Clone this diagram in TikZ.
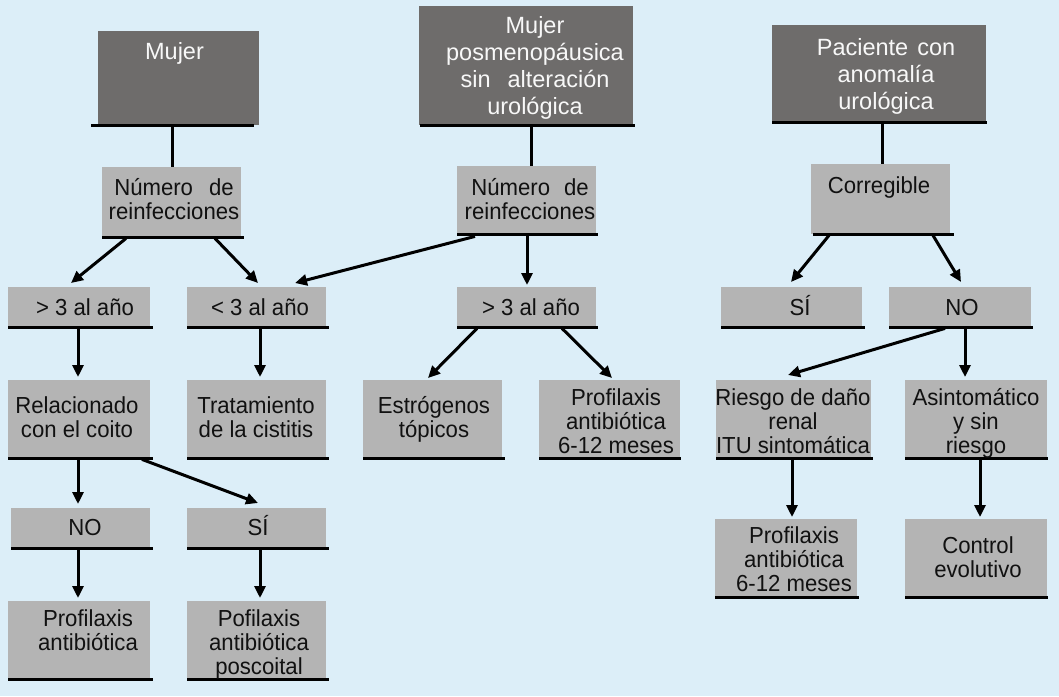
\documentclass[tikz,border=0pt]{standalone}
\usepackage{fontspec}
\setmainfont{Liberation Sans}
\newfontfamily\lfont[FakeStretch=0.955]{Liberation Sans}
\usetikzlibrary{arrows.meta}
\definecolor{bg}{HTML}{DCEEF8}
\definecolor{dbox}{HTML}{6E6C6B}
\definecolor{lbox}{HTML}{B4B4B4}
\definecolor{ltext}{HTML}{111111}
\definecolor{dtext}{HTML}{F8F8F8}
\newcommand\mlines[1]{\begin{tabular}[t]{@{}c@{}}#1\end{tabular}}
\begin{document}
\begin{tikzpicture}[x=1pt,y=-1pt,
  darkbox/.style={fill=dbox, draw=none, inner sep=0pt, anchor=north west},
  lightbox/.style={fill=lbox, draw=none, inner sep=0pt, anchor=north west},
  dtxt/.style={inner sep=0pt, anchor=base, text=dtext, font=\fontsize{23.5}{27}\selectfont},
  ltxt/.style={inner sep=0pt, anchor=base, text=ltext, font=\lfont\fontsize{23.2}{24}\selectfont},
  bline/.style={line width=3pt, black},
  conn/.style={line width=3pt, black},
  arr/.style={conn, -{Triangle[length=12pt,width=11pt]}}
]
\fill[bg] (0,0) rectangle (1059,696);
\useasboundingbox (0,0) rectangle (1059,696);

% ---- boxes ----
\node[darkbox, minimum width=161pt, minimum height=94pt] (m1) at (98,31) {};
\node[darkbox, minimum width=214pt, minimum height=119pt] (m2) at (419,6) {};
\node[darkbox, minimum width=214pt, minimum height=97pt] (m3) at (772,25) {};
\node[lightbox, minimum width=139pt, minimum height=70pt] (n1) at (102,167) {};
\node[lightbox, minimum width=139pt, minimum height=68pt] (n2) at (457,166) {};
\node[lightbox, minimum width=139pt, minimum height=70pt] (n3) at (811,164) {};
\node[lightbox, minimum width=142pt, minimum height=40pt] (a1) at (8,287) {};
\node[lightbox, minimum width=139pt, minimum height=40pt] (a2) at (187,287) {};
\node[lightbox, minimum width=139pt, minimum height=40pt] (a3) at (457,287) {};
\node[lightbox, minimum width=141pt, minimum height=40pt] (a4) at (721,287) {};
\node[lightbox, minimum width=142pt, minimum height=40pt] (a5) at (889,287) {};
\node[lightbox, minimum width=142pt, minimum height=78pt] (b1) at (8,380) {};
\node[lightbox, minimum width=139pt, minimum height=78pt] (b2) at (187,380) {};
\node[lightbox, minimum width=139pt, minimum height=78pt] (b3) at (363,380) {};
\node[lightbox, minimum width=141pt, minimum height=78pt] (b4) at (539,380) {};
\node[lightbox, minimum width=155pt, minimum height=78pt] (b5) at (716,380) {};
\node[lightbox, minimum width=142pt, minimum height=78pt] (b6) at (905,380) {};
\node[lightbox, minimum width=139pt, minimum height=40pt] (c1) at (11,508) {};
\node[lightbox, minimum width=139pt, minimum height=40pt] (c2) at (187,508) {};
\node[lightbox, minimum width=142pt, minimum height=78pt] (d1) at (8,601) {};
\node[lightbox, minimum width=139pt, minimum height=78pt] (d2) at (187,601) {};
\node[lightbox, minimum width=142pt, minimum height=78pt] (e1) at (715,519) {};
\node[lightbox, minimum width=142pt, minimum height=78pt] (e2) at (905,519) {};

% ---- bottom rules ----
\draw[bline] ([xshift=-7pt]m1.south west) -- ([xshift=-5pt]m1.south east);
\draw[bline] ([xshift=1pt]m2.south west) -- ([xshift=2pt]m2.south east);
\draw[bline] (m3.south west) -- ([xshift=1pt]m3.south east);
\draw[bline] (n1.south west) -- ([xshift=3pt]n1.south east);
\draw[bline] (n2.south west) -- ([xshift=2pt]n2.south east);
\draw[bline] ([xshift=2pt]n3.south west) -- ([xshift=4pt]n3.south east);
\draw[bline] (a1.south west) -- ([xshift=3pt]a1.south east);
\draw[bline] (a2.south west) -- ([xshift=3pt]a2.south east);
\draw[bline] (a3.south west) -- ([xshift=2pt]a3.south east);
\draw[bline] (a4.south west) -- ([xshift=3pt]a4.south east);
\draw[bline] (a5.south west) -- ([xshift=2pt]a5.south east);
\draw[bline] (b1.south west) -- ([xshift=3pt]b1.south east);
\draw[bline] (b2.south west) -- ([xshift=3pt]b2.south east);
\draw[bline] (b3.south west) -- ([xshift=3pt]b3.south east);
\draw[bline] (b4.south west) -- ([xshift=1pt]b4.south east);
\draw[bline] (b5.south west) -- ([xshift=2pt]b5.south east);
\draw[bline] (b6.south west) -- ([xshift=1pt]b6.south east);
\draw[bline] (c1.south west) -- ([xshift=3pt]c1.south east);
\draw[bline] (c2.south west) -- ([xshift=3pt]c2.south east);
\draw[bline] (d1.south west) -- ([xshift=3pt]d1.south east);
\draw[bline] (d2.south west) -- ([xshift=3pt]d2.south east);
\draw[bline] (e1.south west) -- ([xshift=2pt]e1.south east);
\draw[bline] (e2.south west) -- ([xshift=1pt]e2.south east);

% ---- texts ----
\node[dtxt] (tm1) at (174.5,59) {Mujer};
\node[dtxt] (tm2) at (535,33) {\mlines{Mujer\\posmenopáusica\\sin\hspace{17pt}alteración\\urológica}};
\node[dtxt] (tm3) at (886,55) {\mlines{Paciente\hspace{9pt}con\\anomalía\\urológica}};
\node[ltxt] (tn1) at (174,195) {\mlines{Número\hspace{16pt}de\\reinfecciones}};
\node[ltxt] (tn2) at (530,195) {\mlines{Número\hspace{14pt}de\\reinfecciones}};
\node[ltxt] (tn3) at (879,193) {Corregible};
\node[ltxt] (ta1) at (85,315) {> 3 al año};
\node[ltxt] (ta2) at (260,315) {< 3 al año};
\node[ltxt] (ta3) at (531,315) {> 3 al año};
\node[ltxt] (ta4) at (800,315) {SÍ};
\node[ltxt] (ta5) at (962,315) {NO};
\node[ltxt] (tb1) at (77,413) {\mlines{Relacionado\\con el coito}};
\node[ltxt] (tb2) at (256,413) {\mlines{Tratamiento\\de la cistitis}};
\node[ltxt] (tb3) at (434,413) {\mlines{Estrógenos\\tópicos}};
\node[ltxt] (tb4) at (616,405) {\mlines{Profilaxis\\antibiótica\\6-12 meses}};
\node[ltxt] (tb5) at (793,405) {\mlines{Riesgo de daño\\renal\\ITU sintomática}};
\node[ltxt] (tb6) at (976,405) {\mlines{Asintomático\\y sin\\riesgo}};
\node[ltxt] (tc1) at (85,535) {NO};
\node[ltxt] (tc2) at (258,535) {SÍ};
\node[ltxt] (td1) at (88,626) {\mlines{Profilaxis\\antibiótica}};
\node[ltxt] (td2) at (259,626) {\mlines{Pofilaxis\\antibiótica\\poscoital}};
\node[ltxt] (te1) at (794,543) {\mlines{Profilaxis\\antibiótica\\6-12 meses}};
\node[ltxt] (te2) at (978,553) {\mlines{Control\\evolutivo}};

% ---- connectors ----
\draw[conn] ([shift={(74,1)}]m1.south west) -- ([shift={(70,0)}]n1.north west);
\draw[conn] ([shift={(112,1)}]m2.south west) -- ([shift={(74,0)}]n2.north west);
\draw[conn] ([shift={(110,1)}]m3.south west) -- ([shift={(71,0)}]n3.north west);

\draw[arr] ([shift={(24,1)}]n1.south west) -- ([shift={(63,-4)}]a1.north west);
\draw[arr] ([shift={(113,1)}]n1.south west) -- ([shift={(71,-4)}]a2.north west);
\draw[arr] ([shift={(18,2)}]n2.south west) -- ([shift={(108,-4)}]a2.north west);
\draw[arr] ([shift={(70,1)}]n2.south west) -- ([shift={(70,-2)}]a3.north west);
\draw[arr] ([shift={(18,1)}]n3.south west) -- ([shift={(70,-5)}]a4.north west);
\draw[arr] ([shift={(122,1)}]n3.south west) -- ([shift={(72,-5)}]a5.north west);

\draw[arr] ([shift={(70,1)}]a1.south west) -- ([shift={(70,-3)}]b1.north west);
\draw[arr] ([shift={(73,1)}]a2.south west) -- ([shift={(73,-3)}]b2.north west);
\draw[arr] ([shift={(20,1)}]a3.south west) -- ([shift={(65,-2)}]b3.north west);
\draw[arr] ([shift={(105,1)}]a3.south west) -- ([shift={(73,-2)}]b4.north west);
\draw[arr] ([shift={(56,1)}]a5.south west) -- ([shift={(72,-5)}]b5.north west);
\draw[arr] ([shift={(76,1)}]a5.south west) -- ([shift={(60,-3)}]b6.north west);

\draw[arr] ([shift={(70,1)}]b1.south west) -- ([shift={(67,-4)}]c1.north west);
\draw[arr] ([shift={(134,1)}]b1.south west) -- ([shift={(71,-5)}]c2.north west);
\draw[arr] ([shift={(67,1)}]c1.south west) -- ([shift={(70,-3)}]d1.north west);
\draw[arr] ([shift={(73,1)}]c2.south west) -- ([shift={(73,-3)}]d2.north west);
\draw[arr] ([shift={(76,1)}]b5.south west) -- ([shift={(77,-2)}]e1.north west);
\draw[arr] ([shift={(75,1)}]b6.south west) -- ([shift={(75,-2)}]e2.north west);
\end{tikzpicture}
\end{document}
